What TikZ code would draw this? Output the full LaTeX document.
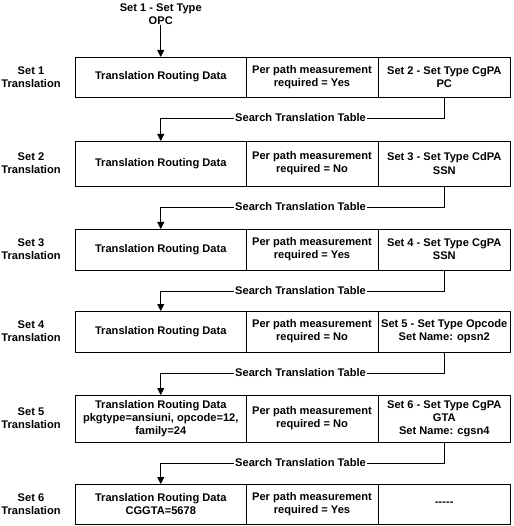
\documentclass[tikz,border=0pt]{standalone}
\usepackage{fontspec}
\setmainfont{Liberation Sans}
\usetikzlibrary{arrows.meta}
\tikzset{
  base/.style={font=\bfseries\fontsize{11.1}{13.2}\selectfont, align=center, inner sep=0pt, outer sep=0pt},
  cell/.style={base, draw, line width=0.9pt, anchor=north west},
  side/.style={base},
  lbl/.style={base, fill=white, inner xsep=1.5pt, inner ysep=1pt},
  conn/.style={line width=0.9pt},
  arr/.style={line width=0.9pt, -{Triangle[length=7pt,width=7pt]}},
}
\begin{document}
\begin{tikzpicture}[x=1pt,y=1pt]
\useasboundingbox (0,0) rectangle (513,-526);
% Row 1
\node[cell, minimum width=170.5pt, minimum height=40pt] (r1a) at (75.5,-57) {Translation Routing Data};
\node[cell, minimum width=132pt, minimum height=40pt] (r1b) at (r1a.north east) {Per path measurement\\required = Yes};
\node[cell, minimum width=132.5pt, minimum height=40pt] (r1c) at (r1b.north east) {Set 2 - Set Type CgPA\\PC};
\node[side] (l1) at (31,-77) {Set 1\\Translation};
% Row 2
\node[cell, minimum width=170.5pt, minimum height=45pt] (r2a) at (75.5,-141) {Translation Routing Data};
\node[cell, minimum width=132pt, minimum height=45pt] (r2b) at (r2a.north east) {Per path measurement\\required = No};
\node[cell, minimum width=132.5pt, minimum height=45pt] (r2c) at (r2b.north east) {Set 3 - Set Type CdPA\\SSN};
\node[side] (l2) at (31,-163.5) {Set 2\\Translation};
% Row 3
\node[cell, minimum width=170.5pt, minimum height=41pt] (r3a) at (75.5,-229) {Translation Routing Data};
\node[cell, minimum width=132pt, minimum height=41pt] (r3b) at (r3a.north east) {Per path measurement\\required = Yes};
\node[cell, minimum width=132.5pt, minimum height=41pt] (r3c) at (r3b.north east) {Set 4 - Set Type CgPA\\SSN};
\node[side] (l3) at (31,-249.5) {Set 3\\Translation};
% Row 4
\node[cell, minimum width=170.5pt, minimum height=41pt] (r4a) at (75.5,-311) {Translation Routing Data};
\node[cell, minimum width=132pt, minimum height=41pt] (r4b) at (r4a.north east) {Per path measurement\\required = No};
\node[cell, minimum width=132.5pt, minimum height=41pt] (r4c) at (r4b.north east) {Set 5 - Set Type Opcode\\Set Name: opsn2};
\node[side] (l4) at (31,-331.5) {Set 4\\Translation};
% Row 5
\node[cell, minimum width=170.5pt, minimum height=47pt] (r5a) at (75.5,-395) {Translation Routing Data\\pkgtype=ansiuni, opcode=12,\\family=24};
\node[cell, minimum width=132pt, minimum height=47pt] (r5b) at (r5a.north east) {Per path measurement\\required = No};
\node[cell, minimum width=132.5pt, minimum height=47pt] (r5c) at (r5b.north east) {Set 6 - Set Type CgPA\\GTA\\Set Name: cgsn4};
\node[side] (l5) at (31,-418.5) {Set 5\\Translation};
% Row 6
\node[cell, minimum width=170.5pt, minimum height=40pt] (r6a) at (75.5,-484) {Translation Routing Data\\CGGTA=5678};
\node[cell, minimum width=132pt, minimum height=40pt] (r6b) at (r6a.north east) {Per path measurement\\required = Yes};
\node[cell, minimum width=132.5pt, minimum height=40pt] (r6c) at (r6b.north east) {-{}-{}-{}-{}-};
\node[side] (l6) at (31,-504) {Set 6\\Translation};
% Top label
\node[base] (top) at (160.75,-14) {Set 1 - Set Type\\OPC};
\draw[arr] (top.south) -- (r1a.north);
% Connectors
\coordinate (s1) at (160.75,-118);
\coordinate (s2) at (160.75,-207);
\coordinate (s3) at (160.75,-291);
\coordinate (s4) at (160.75,-373);
\coordinate (s5) at (160.75,-463);
\draw[conn] (r1c.south) |- (s1);
\draw[arr] (s1) -- (r2a.north);
\draw[conn] (r2c.south) |- (s2);
\draw[arr] (s2) -- (r3a.north);
\draw[conn] (r3c.south) |- (s3);
\draw[arr] (s3) -- (r4a.north);
\draw[conn] (r4c.south) |- (s4);
\draw[arr] (s4) -- (r5a.north);
\draw[conn] (r5c.south) |- (s5);
\draw[arr] (s5) -- (r6a.north);
\node[lbl] (t1) at (300.5,-118) {Search Translation Table};
\node[lbl] (t2) at (300.5,-207) {Search Translation Table};
\node[lbl] (t3) at (300.5,-291) {Search Translation Table};
\node[lbl] (t4) at (300.5,-373) {Search Translation Table};
\node[lbl] (t5) at (300.5,-463) {Search Translation Table};
\end{tikzpicture}
\end{document}
